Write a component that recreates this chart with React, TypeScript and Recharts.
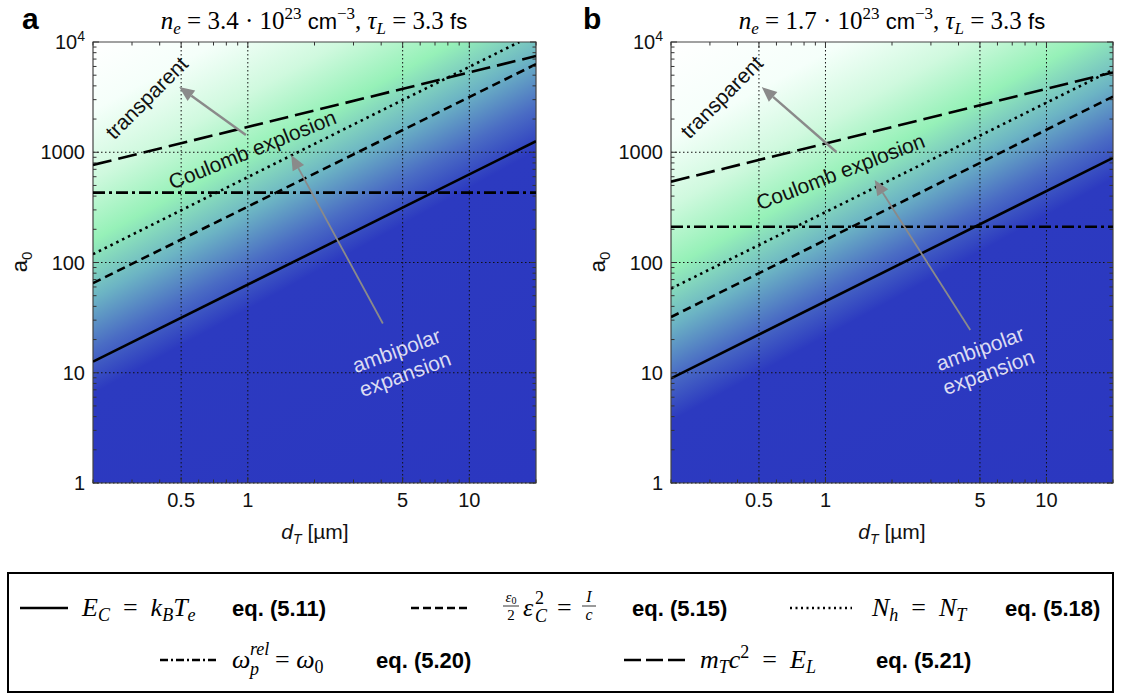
import React from "react";
import {
  LineChart,
  Line,
  XAxis,
  YAxis,
  CartesianGrid,
  ReferenceArea,
  ReferenceLine,
  ReferenceDot,
} from "recharts";

// axes: target thickness d_T [µm] vs. normalized amplitude a0
const dMajor = [0.5, 1, 5, 10];
const dTicks = [0.2, 0.3, 0.4, 0.5, 0.6, 0.7, 0.8, 0.9, 1, 2, 3, 4, 5, 6, 7, 8, 9, 10, 20];
const a0Major = [1, 10, 100, 1000, 10000];
const a0Ticks = [
  1, 2, 3, 4, 5, 6, 7, 8, 9, 10, 20, 30, 40, 50, 60, 70, 80, 90, 100, 200, 300, 400, 500,
  600, 700, 800, 900, 1000, 2000, 3000, 4000, 5000, 6000, 7000, 8000, 9000, 10000,
];
const gridD = [0.5, 1, 5, 10];
const gridA0 = [1, 10, 100, 1000];

// panel a: n_e = 3.4e23 cm^-3
const dEnds = [0.2, 20];
const solidA = [12.6, 1260];
const dashedA = [65, 6300];
const dottedDA = [0.2, 16.8];
const dottedA = [119, 10000];
const dashDotA = [430, 430];
const longDashA = [767, 7460];

// panel b: n_e = 1.7e23 cm^-3
const solidB = [8.9, 890];
const dashedB = [32, 3200];
const dottedB = [58, 5600];
const dashDotB = [211, 211];
const longDashB = [541, 5300];

const SANS = '"Liberation Sans", Arial, Helvetica, sans-serif';
const SERIF = '"Liberation Serif", "Times New Roman", serif';
const ARROW = "#8a8a8a";
const PLOT_H = 441;
const SP = "\u2002";
const TH = "\u2005";

// background colour map, offsets along the gradient
const bgStops: [number, string][] = [
  [0, "#ffffff"],
  [0.1, "#f5fffa"],
  [0.2, "#cff9de"],
  [0.29, "#96f1b8"],
  [0.375, "#6cb4c4"],
  [0.45, "#4a6cc4"],
  [0.515, "#2c3ac0"],
  [1, "#2b37c0"],
];

const pts = (xs: number[], ys: number[]) => xs.map((d, i) => ({ d, a0: ys[i] }));

const renderArrow = (w: number) => (p: any) => {
  const { x1, y1, x2, y2 } = p;
  const ang = Math.atan2(y2 - y1, x2 - x1);
  const c = Math.cos(ang);
  const s = Math.sin(ang);
  const L = 15;
  const W = 6.5;
  const bx = x2 - L * c;
  const by = y2 - L * s;
  return (
    <g>
      <line x1={x1} y1={y1} x2={bx} y2={by} stroke={ARROW} strokeWidth={w} />
      <polygon
        points={`${x2},${y2} ${bx - W * s},${by + W * c} ${bx + W * s},${by - W * c}`}
        fill={ARROW}
      />
    </g>
  );
};

const renderText = (lines: string[], angle: number, color: string) => (p: any) => {
  const { cx, cy } = p;
  return (
    <text
      x={cx}
      y={cy}
      transform={`rotate(${angle} ${cx} ${cy})`}
      textAnchor="middle"
      fontFamily={SANS}
      fontSize={21}
      fill={color}
    >
      {lines.map((t, i) => (
        <tspan key={i} x={cx} dy={i === 0 ? (lines.length === 1 ? 7 : -5) : 25}>
          {t}
        </tspan>
      ))}
    </text>
  );
};

const makeXTick = (plotH: number) => (props: any) => {
  const { x, y, payload } = props;
  const v = payload.value;
  const major = dMajor.includes(v);
  const len = major ? 6 : 3.5;
  return (
    <g>
      <line x1={x} x2={x} y1={y} y2={y - len} stroke="#333" />
      <line x1={x} x2={x} y1={y - plotH} y2={y - plotH + len} stroke="#333" />
      {major && (
        <text x={x} y={y + 24} textAnchor="middle" fontSize={20} fontFamily={SANS} fill="#111">
          {v}
        </text>
      )}
    </g>
  );
};

const makeYTick = (plotW: number) => (props: any) => {
  const { x, y, payload } = props;
  const v = payload.value;
  const major = a0Major.includes(v);
  const len = major ? 6 : 3.5;
  return (
    <g>
      <line x1={x} x2={x + len} y1={y} y2={y} stroke="#333" />
      <line x1={x + plotW} x2={x + plotW - len} y1={y} y2={y} stroke="#333" />
      {major && (
        <text x={x - 8} y={y + 7} textAnchor="end" fontSize={20} fontFamily={SANS} fill="#111">
          {v === 10000 ? (
            <>
              10<tspan fontSize={14} dy={-8}>4</tspan>
            </>
          ) : (
            v
          )}
        </text>
      )}
    </g>
  );
};

type Ann = { at: [number, number]; lines: string[]; angle: number; color: string };
type Arr = { from: [number, number]; to: [number, number]; w: number };

interface PanelProps {
  id: string;
  left: number;
  width: number;
  right: number;
  shift: number;
  solid: number[];
  dashed: number[];
  dottedD: number[];
  dotted: number[];
  dashDot: number[];
  longDash: number[];
  arrows: Arr[];
  texts: Ann[];
}

function Panel(p: PanelProps) {
  const plotW = p.width - 93 - p.right;
  return (
    <div style={{ position: "absolute", left: p.left, top: 0 }}>
      <LineChart width={p.width} height={560} margin={{ top: 42, right: p.right, bottom: 0, left: 33 }}>
        <defs>
          <linearGradient id={`bg-${p.id}`} x1="0" y1="0" x2="0.654" y2="1.19">
            {bgStops.map(([o, c], i) => (
              <stop key={i} offset={Math.min(1, o === 0 ? 0 : o + p.shift)} stopColor={c} />
            ))}
          </linearGradient>
        </defs>
        <CartesianGrid
          fill={`url(#bg-${p.id})`}
          fillOpacity={1}
          stroke="#111"
          strokeDasharray="1.5 2.5"
          horizontalValues={gridA0}
          verticalValues={gridD}
        />
        <XAxis
          type="number"
          dataKey="d"
          scale="log"
          domain={[0.2, 20]}
          allowDataOverflow
          ticks={dTicks}
          interval={0}
          tickSize={0}
          tickMargin={0}
          tickLine={false}
          axisLine={false}
          height={77}
          tick={makeXTick(PLOT_H)}
        />
        <YAxis
          type="number"
          scale="log"
          domain={[1, 10000]}
          allowDataOverflow
          ticks={a0Ticks}
          interval={0}
          tickSize={0}
          tickMargin={0}
          tickLine={false}
          axisLine={false}
          width={60}
          tick={makeYTick(plotW)}
        />
        <ReferenceArea x1={0.2} x2={20} y1={1} y2={10000} fill="none" stroke="#444" strokeWidth={1.2} />
        <Line data={pts(dEnds, p.solid)} dataKey="a0" stroke="#000" strokeWidth={2.6} dot={false} isAnimationActive={false} />
        <Line data={pts(dEnds, p.dashed)} dataKey="a0" stroke="#000" strokeWidth={2.6} strokeDasharray="8.5 5" dot={false} isAnimationActive={false} />
        <Line data={pts(p.dottedD, p.dotted)} dataKey="a0" stroke="#000" strokeWidth={2.6} strokeDasharray="2.5 4" dot={false} isAnimationActive={false} />
        <Line data={pts(dEnds, p.dashDot)} dataKey="a0" stroke="#000" strokeWidth={2.6} strokeDasharray="12 4 3 4" dot={false} isAnimationActive={false} />
        <Line data={pts(dEnds, p.longDash)} dataKey="a0" stroke="#000" strokeWidth={2.6} strokeDasharray="19 7" dot={false} isAnimationActive={false} />
        {p.arrows.map((a, i) => (
          <ReferenceLine
            key={`ar${i}`}
            segment={[
              { x: a.from[0], y: a.from[1] },
              { x: a.to[0], y: a.to[1] },
            ]}
            shape={renderArrow(a.w)}
          />
        ))}
        {p.texts.map((t, i) => (
          <ReferenceDot key={`tx${i}`} x={t.at[0]} y={t.at[1]} r={0} shape={renderText(t.lines, t.angle, t.color)} />
        ))}
      </LineChart>
    </div>
  );
}

function Title({ x, ne }: { x: number; ne: string }) {
  return (
    <text x={x} y={29} textAnchor="middle" fontFamily={SERIF} fontSize={25} fill="#000">
      <tspan fontStyle="italic">n</tspan>
      <tspan fontSize={17} dy={5} fontStyle="italic">e</tspan>
      <tspan dy={-5}>{`${TH}=${TH}${ne} · 10`}</tspan>
      <tspan fontSize={17} dy={-10}>23</tspan>
      <tspan dy={10} fontFamily={SANS} fontSize={22}>{" cm"}</tspan>
      <tspan fontSize={17} dy={-10}>−3</tspan>
      <tspan dy={10}>{", "}</tspan>
      <tspan fontStyle="italic">τ</tspan>
      <tspan fontSize={17} dy={5} fontStyle="italic">L</tspan>
      <tspan dy={-5}>{`${TH}=${TH}3.3 `}</tspan>
      <tspan fontFamily={SANS} fontSize={22}>fs</tspan>
    </text>
  );
}

function AxisLabels({ cx, ax }: { cx: number; ax: number }) {
  return (
    <g fontFamily={SANS} fill="#111">
      <text x={cx} y={539} textAnchor="middle" fontSize={21}>
        <tspan fontStyle="italic">d</tspan>
        <tspan fontSize={14} dy={5} fontStyle="italic">T</tspan>
        <tspan dy={-5}>{" [µm]"}</tspan>
      </text>
      <text x={ax} y={262} textAnchor="middle" fontSize={22} transform={`rotate(-90 ${ax} 262)`}>
        <tspan>a</tspan>
        <tspan fontSize={15} dy={5}>0</tspan>
      </text>
    </g>
  );
}

function Legend() {
  const eq = { fontFamily: SANS, fontWeight: 700, fontSize: 22 } as const;
  const m = { fontFamily: SERIF, fontSize: 26 } as const;
  const r1 = 616;
  const r2 = 668;
  const sub = 18;
  return (
    <g fill="#000">
      <rect x={8} y={573} width={1105} height={119} fill="#fff" stroke="#000" strokeWidth={2} />
      {/* row 1 */}
      <line x1={20} x2={68} y1={608} y2={608} stroke="#000" strokeWidth={2.5} />
      <text x={82} y={r1} {...m}>
        <tspan fontStyle="italic">E</tspan>
        <tspan fontSize={sub} dy={5} fontStyle="italic">C</tspan>
        <tspan dy={-5}>{`${SP}=${SP}`}</tspan>
        <tspan fontStyle="italic">k</tspan>
        <tspan fontSize={sub} dy={5} fontStyle="italic">B</tspan>
        <tspan dy={-5} fontStyle="italic">T</tspan>
        <tspan fontSize={sub} dy={5} fontStyle="italic">e</tspan>
      </text>
      <text x={232} y={r1} {...eq}>eq. (5.11)</text>

      <line x1={411} x2={470} y1={608} y2={608} stroke="#000" strokeWidth={2.5} strokeDasharray="8 4" />
      <text x={511} y={602} fontFamily={SERIF} fontSize={15} textAnchor="middle" fontStyle="italic">
        ε<tspan fontSize={10} dy={2} fontStyle="normal">0</tspan>
      </text>
      <line x1={503} x2={519} y1={606} y2={606} stroke="#000" strokeWidth={0.8} />
      <text x={511} y={620} fontFamily={SERIF} fontSize={15} textAnchor="middle">2</text>
      <text x={523} y={r1} {...m} fontStyle="italic">ε</text>
      <text x={535} y={604} fontFamily={SERIF} fontSize={sub}>2</text>
      <text x={535} y={622} fontFamily={SERIF} fontSize={sub} fontStyle="italic">C</text>
      <text x={557} y={r1} {...m}>=</text>
      <text x={589} y={602} fontFamily={SERIF} fontSize={16} textAnchor="middle" fontStyle="italic">I</text>
      <line x1={582} x2={596} y1={606} y2={606} stroke="#000" strokeWidth={0.8} />
      <text x={589} y={620} fontFamily={SERIF} fontSize={16} textAnchor="middle" fontStyle="italic">c</text>
      <text x={632} y={r1} {...eq}>eq. (5.15)</text>

      <line x1={790} x2={852} y1={608} y2={608} stroke="#000" strokeWidth={2.5} strokeDasharray="2 3.5" />
      <text x={872} y={r1} {...m}>
        <tspan fontStyle="italic">N</tspan>
        <tspan fontSize={sub} dy={5} fontStyle="italic">h</tspan>
        <tspan dy={-5}>{`${SP}=${SP}`}</tspan>
        <tspan fontStyle="italic">N</tspan>
        <tspan fontSize={sub} dy={5} fontStyle="italic">T</tspan>
      </text>
      <text x={1005} y={r1} {...eq}>eq. (5.18)</text>

      {/* row 2 */}
      <line x1={160} x2={218} y1={660} y2={660} stroke="#000" strokeWidth={2.5} strokeDasharray="8 3 2 3" />
      <text x={232} y={r2} {...m} fontStyle="italic">ω</text>
      <text x={250} y={655} fontFamily={SERIF} fontSize={sub} fontStyle="italic">rel</text>
      <text x={250} y={675} fontFamily={SERIF} fontSize={sub} fontStyle="italic">p</text>
      <text x={275} y={r2} {...m}>
        {`=${TH}`}
        <tspan fontStyle="italic">ω</tspan>
        <tspan fontSize={sub} dy={5}>0</tspan>
      </text>
      <text x={376} y={r2} {...eq}>eq. (5.20)</text>

      <line x1={624} x2={686} y1={660} y2={660} stroke="#000" strokeWidth={2.5} strokeDasharray="17 5" />
      <text x={700} y={r2} {...m}>
        <tspan fontStyle="italic">m</tspan>
        <tspan fontSize={sub} dy={5} fontStyle="italic">T</tspan>
        <tspan dy={-5} fontStyle="italic">c</tspan>
        <tspan fontSize={sub} dy={-10}>2</tspan>
        <tspan dy={10}>{`${SP}=${SP}`}</tspan>
        <tspan fontStyle="italic">E</tspan>
        <tspan fontSize={sub} dy={5} fontStyle="italic">L</tspan>
      </text>
      <text x={876} y={r2} {...eq}>eq. (5.21)</text>
    </g>
  );
}

export default function App() {
  return (
    <div
      style={{
        position: "absolute",
        left: 0,
        top: 0,
        width: 1121,
        height: 697,
        overflow: "hidden",
        background: "#fff",
      }}
    >
      <Panel
        id="a"
        left={0}
        width={545}
        right={9}
        shift={0}
        solid={solidA}
        dashed={dashedA}
        dottedD={dottedDA}
        dotted={dottedA}
        dashDot={dashDotA}
        longDash={longDashA}
        arrows={[
          { from: [0.98, 1433], to: [0.49, 3900], w: 2.4 },
          { from: [4.07, 28], to: [1.57, 944], w: 1.8 },
        ]}
        texts={[
          { at: [0.35, 3100], lines: ["transparent"], angle: -45, color: "#111" },
          { at: [1.05, 1050], lines: ["Coulomb explosion"], angle: -22, color: "#111" },
          { at: [4.9, 12.5], lines: ["ambipolar", "expansion"], angle: -20, color: "#dcdcf2" },
        ]}
      />
      <Panel
        id="b"
        left={578}
        width={545}
        right={10}
        shift={0.04}
        solid={solidB}
        dashed={dashedB}
        dottedD={dEnds}
        dotted={dottedB}
        dashDot={dashDotB}
        longDash={longDashB}
        arrows={[
          { from: [1.12, 1005], to: [0.515, 3900], w: 2.4 },
          { from: [4.52, 24.4], to: [1.67, 560], w: 1.8 },
        ]}
        texts={[
          { at: [0.34, 3150], lines: ["transparent"], angle: -45, color: "#111" },
          { at: [1.17, 662], lines: ["Coulomb explosion"], angle: -21, color: "#111" },
          { at: [5.23, 13], lines: ["ambipolar", "expansion"], angle: -20, color: "#dcdcf2" },
        ]}
      />
      <svg
        width={1121}
        height={697}
        style={{ position: "absolute", left: 0, top: 0, pointerEvents: "none" }}
      >
        <text x={22} y={29} fontFamily={SANS} fontWeight={700} fontSize={30}>a</text>
        <text x={583} y={29} fontFamily={SANS} fontWeight={700} fontSize={30}>b</text>
        <Title x={314} ne="3.4" />
        <Title x={892} ne="1.7" />
        <AxisLabels cx={315} ax={27} />
        <AxisLabels cx={892} ax={605} />
        <Legend />
      </svg>
    </div>
  );
}
